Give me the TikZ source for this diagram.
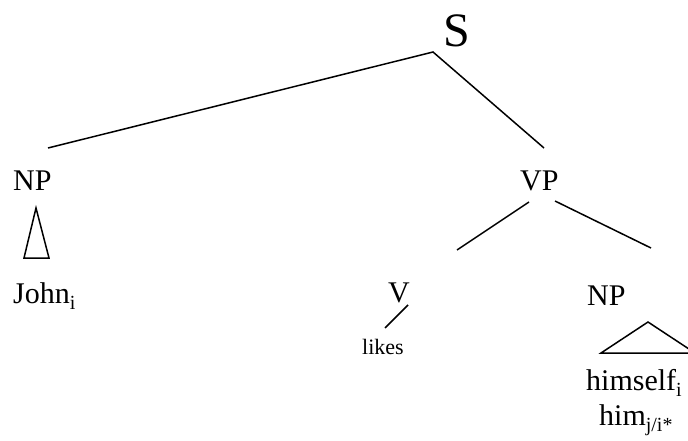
\documentclass[tikz,border=0pt]{standalone}
\usepackage{fontspec}
\setmainfont{Liberation Serif}
\usetikzlibrary{positioning}
\tikzset{
cat/.style={inner sep=0pt,anchor=base west,font=\fontsize{30}{36}\selectfont},
root/.style={cat,font=\fontsize{48}{56}\selectfont},
word/.style={inner sep=0pt,anchor=base west,font=\fontsize{22}{26}\selectfont},
br/.style={line width=1.5pt},
tri/.style={line width=1.5pt,line join=miter},
}
\newcommand{\idx}[1]{\raisebox{-0.22em}{\fontsize{20}{22}\selectfont #1}}

\begin{document}
\begin{tikzpicture}[x=1pt,y=-1pt]
	\useasboundingbox (0,0) rectangle (688,441);

	% labels
	\node[root] (s) at (443,47) {S};
	\node[cat] (np1) at (13,190) {NP};
	\node[cat] (vp) at (520,190) {VP};
	\node[cat] (v) at (388,302) {V};
	\node[cat] (np2) at (587,305) {NP};
	\node[cat] (john) at (13,303) {John\idx{i}};
	\node[word] (likes) at (362,354) {likes};
	\node[cat] (himself) at (586,390) {himself\idx{i}};
	\node[cat] (him) at (599,425) {him\idx{j/i*}};

	% branch ends
	\coordinate (s-top) at (433,52);
	\coordinate (s-l) at (48,148);
	\coordinate (s-r) at (544,148);
	\coordinate (vp-l) at (529,202);
	\coordinate (v-top) at (457,250);
	\coordinate (vp-r) at (555,201);
	\coordinate (np2-top) at (651,248);
	\coordinate (v-a) at (408,305);
	\coordinate (v-b) at (385,328);

	\draw[br] (s-l) -- (s-top) -- (s-r);
	\draw[br] (vp-l) -- (v-top);
	\draw[br] (vp-r) -- (np2-top);
	\draw[br] (v-a) -- (v-b);

	% triangles
	\draw[tri] (36,208) -- (49,258) -- (24,258) -- cycle;
	\draw[tri] (648,322) -- (695,353) -- (601,353) -- cycle;
\end{tikzpicture}
\end{document}
